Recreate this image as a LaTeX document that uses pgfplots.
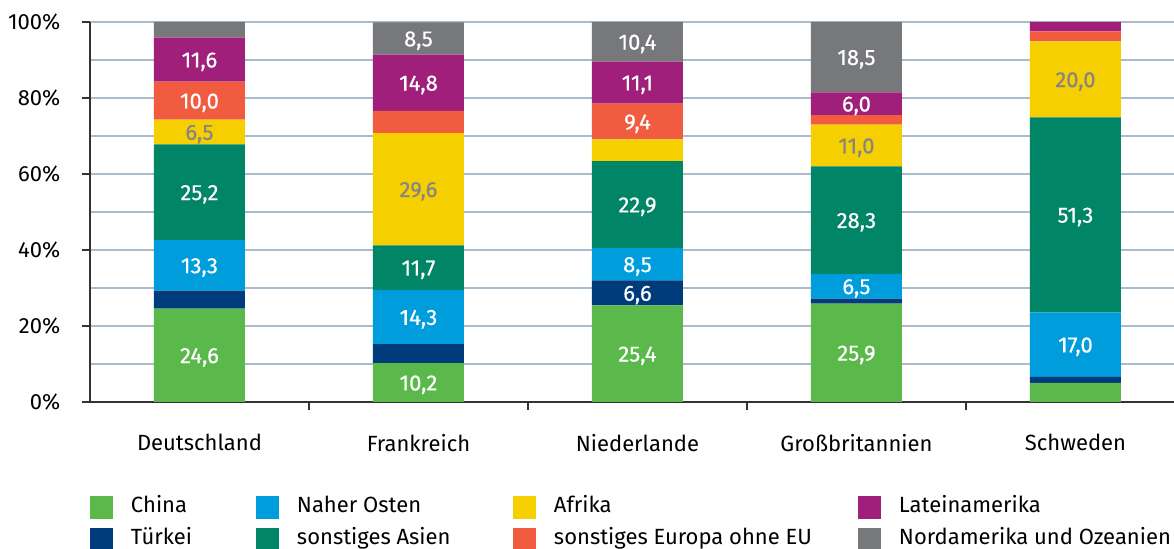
\documentclass[border=0pt]{standalone}
\usepackage{fontspec}
\setmainfont{Fira Sans}
\newfontfamily\lblfont[FakeBold=0.5]{Fira Sans}
\usepackage{pgfplots}
\usepackage{pgfplotstable}
\pgfplotsset{compat=1.18}

\definecolor{cChina}{HTML}{5AB94A}
\definecolor{cTuerkei}{HTML}{003C7B}
\definecolor{cNaher}{HTML}{009DDC}
\definecolor{cAsien}{HTML}{008566}
\definecolor{cAfrika}{HTML}{F5CF00}
\definecolor{cEuropa}{HTML}{F15B40}
\definecolor{cLatein}{HTML}{9F1F7A}
\definecolor{cNord}{HTML}{77787B}
\definecolor{gridcol}{HTML}{A9BCCB}
\definecolor{axcol}{HTML}{333333}
\definecolor{labgray}{HTML}{858585}

\pgfplotstableread{
x China Tuerkei Naher Asien Afrika Europa Latein Nord
0 24.6 4.7 13.3 25.2 6.5 10.0 11.6 4.1
1 10.2 5.0 14.3 11.7 29.6 5.8 14.8 8.5
2 25.4 6.6 8.5 22.9 5.7 9.4 11.1 10.4
3 25.9 1.3 6.5 28.3 11.0 2.5 6.0 18.5
4 5.0 1.6 17.0 51.3 20.0 2.6 2.5 0.0
}\data

\newcommand\barlabel{%
  \pgfmathfloattofixed{\pgfplotspointmeta}%
  \let\myval\pgfmathresult
  \ifdim\myval pt<5.95pt\relax\else
    \raisebox{-3.9pt}[0pt][0pt]{\lblfont\pgfmathprintnumber[fixed,fixed zerofill,precision=1,use comma]{\myval}}%
  \fi}
\newcommand\lent[2]{\makebox[#1][l]{\hspace{9pt}#2}}

\pgfkeys{/pgf/number format/assume math mode=true}

\begin{document}
\begin{tikzpicture}[font=\fontsize{11}{13}\selectfont]
\begin{axis}[
  scale only axis, width=542pt, height=190pt,
  ybar stacked, bar width=45.5pt,
  xmin=-0.5, xmax=4.45, ymin=0, ymax=100,
  axis x line*=bottom, axis y line*=left,
  axis line style={-, draw=axcol, line width=0.7pt},
  xtick={0,1,2,3,4},
  xticklabels={Deutschland,Frankreich,Niederlande,Großbritannien,Schweden},
  ytick={0,20,...,100}, minor ytick={10,30,50,70,90},
  yticklabel={\pgfmathprintnumber{\tick}\%},
  tick align=outside, major tick length=4pt, minor tick length=0pt,
  xtick style={draw=none},
  ytick style={draw=axcol, line width=0.6pt},
  extra x ticks={0.5,1.5,2.5,3.5}, extra x tick labels={},
  extra x tick style={grid=none, xtick style={draw=axcol, line width=0.6pt}},
  ymajorgrids, yminorgrids,
  major grid style={draw=gridcol, line width=0.7pt},
  minor grid style={draw=gridcol, line width=0.7pt},
  yticklabel style={xshift=-7.3pt},
  xticklabel style={yshift=-8.5pt},
  tick label style={font=\fontsize{11}{13}\selectfont, text=black},
  point meta=explicit,
  nodes near coords=\barlabel,
  every node near coord/.append style={inner sep=0pt, anchor=center, text=white, font=\fontsize{11}{13}\selectfont},
  legend columns=2, transpose legend,
  legend style={at={(rel axis cs:0,-0.2474)}, anchor=north west, draw=none, fill=none,
    inner sep=0pt, outer sep=0pt, column sep=0pt, row sep=4.5pt,
    nodes={inner sep=0pt, text height=8pt, text depth=3pt, anchor=west},
    font=\fontsize{11}{13}\selectfont},
  legend image code/.code={\fill[#1] (0pt,-5.75pt) rectangle (11.5pt,5.75pt);},
]
\addplot[fill=cChina, draw=none] table[x=x, y=China, meta=China] {\data};
\addlegendentry{\lent{71.5pt}{China}}
\addplot[fill=cTuerkei, draw=none] table[x=x, y=Tuerkei, meta=Tuerkei] {\data};
\addlegendentry{\lent{71.5pt}{Türkei}}
\addplot[fill=cNaher, draw=none] table[x=x, y=Naher, meta=Naher] {\data};
\addlegendentry{\lent{117pt}{Naher Osten}}
\addplot[fill=cAsien, draw=none] table[x=x, y=Asien, meta=Asien] {\data};
\addlegendentry{\lent{117pt}{sonstiges Asien}}
\addplot[fill=cAfrika, draw=none, every node near coord/.append style={text=labgray}] table[x=x, y=Afrika, meta=Afrika] {\data};
\addlegendentry{\lent{161pt}{Afrika}}
\addplot[fill=cEuropa, draw=none] table[x=x, y=Europa, meta=Europa] {\data};
\addlegendentry{\lent{161pt}{sonstiges Europa ohne EU}}
\addplot[fill=cLatein, draw=none] table[x=x, y=Latein, meta=Latein] {\data};
\addlegendentry{\lent{140pt}{Lateinamerika}}
\addplot[fill=cNord, draw=none] table[x=x, y=Nord, meta=Nord] {\data};
\addlegendentry{\lent{140pt}{Nordamerika und Ozeanien}}
\end{axis}
\pgfresetboundingbox
\path[use as bounding box] ([xshift=-45pt,yshift=-73.5pt]current axis.south west) rectangle ([yshift=11pt]current axis.north east);
\end{tikzpicture}
\end{document}
